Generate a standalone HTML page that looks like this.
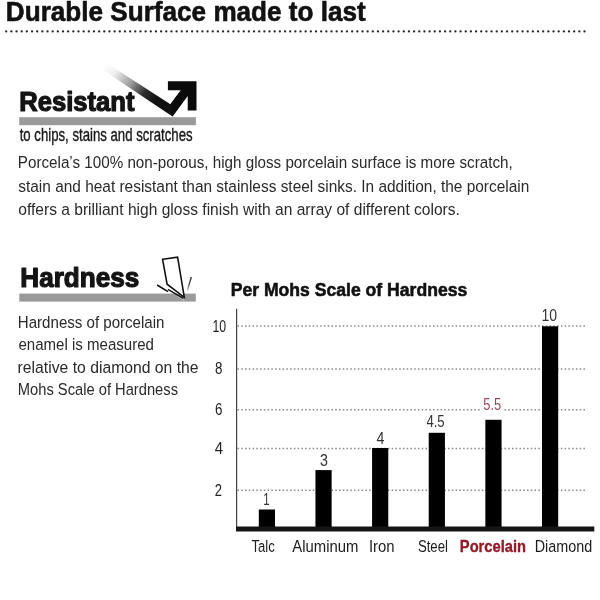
<!DOCTYPE html>
<html><head><meta charset="utf-8"><title>Durable Surface made to last</title>
<style>html,body{margin:0;padding:0;background:#fff;}svg{display:block;}</style>
</head><body>
<svg width="600" height="600" viewBox="0 0 600 600" font-family="'Liberation Sans', Arial, sans-serif">
<defs>
<linearGradient id="fade" gradientUnits="userSpaceOnUse" x1="106" y1="63" x2="158" y2="97">
<stop offset="0" stop-color="#111" stop-opacity="0"/>
<stop offset="0.2" stop-color="#111" stop-opacity="0.06"/>
<stop offset="0.5" stop-color="#111" stop-opacity="0.4"/>
<stop offset="0.78" stop-color="#111" stop-opacity="0.88"/>
<stop offset="1" stop-color="#111" stop-opacity="1"/>
</linearGradient>
<linearGradient id="fade2" gradientUnits="userSpaceOnUse" x1="191.3" y1="277" x2="187.4" y2="290.5">
<stop offset="0" stop-color="#222"/>
<stop offset="0.6" stop-color="#555"/>
<stop offset="1" stop-color="#999" stop-opacity="0.6"/>
</linearGradient>
</defs>
<rect width="600" height="600" fill="#fff"/>
<g fill="#262626"><circle cx="6.20" cy="31.4" r="1.15"/><circle cx="11.36" cy="31.4" r="1.15"/><circle cx="16.53" cy="31.4" r="1.15"/><circle cx="21.69" cy="31.4" r="1.15"/><circle cx="26.85" cy="31.4" r="1.15"/><circle cx="32.02" cy="31.4" r="1.15"/><circle cx="37.18" cy="31.4" r="1.15"/><circle cx="42.34" cy="31.4" r="1.15"/><circle cx="47.51" cy="31.4" r="1.15"/><circle cx="52.67" cy="31.4" r="1.15"/><circle cx="57.83" cy="31.4" r="1.15"/><circle cx="63.00" cy="31.4" r="1.15"/><circle cx="68.16" cy="31.4" r="1.15"/><circle cx="73.32" cy="31.4" r="1.15"/><circle cx="78.49" cy="31.4" r="1.15"/><circle cx="83.65" cy="31.4" r="1.15"/><circle cx="88.81" cy="31.4" r="1.15"/><circle cx="93.98" cy="31.4" r="1.15"/><circle cx="99.14" cy="31.4" r="1.15"/><circle cx="104.30" cy="31.4" r="1.15"/><circle cx="109.47" cy="31.4" r="1.15"/><circle cx="114.63" cy="31.4" r="1.15"/><circle cx="119.79" cy="31.4" r="1.15"/><circle cx="124.96" cy="31.4" r="1.15"/><circle cx="130.12" cy="31.4" r="1.15"/><circle cx="135.28" cy="31.4" r="1.15"/><circle cx="140.45" cy="31.4" r="1.15"/><circle cx="145.61" cy="31.4" r="1.15"/><circle cx="150.77" cy="31.4" r="1.15"/><circle cx="155.94" cy="31.4" r="1.15"/><circle cx="161.10" cy="31.4" r="1.15"/><circle cx="166.27" cy="31.4" r="1.15"/><circle cx="171.43" cy="31.4" r="1.15"/><circle cx="176.59" cy="31.4" r="1.15"/><circle cx="181.76" cy="31.4" r="1.15"/><circle cx="186.92" cy="31.4" r="1.15"/><circle cx="192.08" cy="31.4" r="1.15"/><circle cx="197.25" cy="31.4" r="1.15"/><circle cx="202.41" cy="31.4" r="1.15"/><circle cx="207.57" cy="31.4" r="1.15"/><circle cx="212.74" cy="31.4" r="1.15"/><circle cx="217.90" cy="31.4" r="1.15"/><circle cx="223.06" cy="31.4" r="1.15"/><circle cx="228.23" cy="31.4" r="1.15"/><circle cx="233.39" cy="31.4" r="1.15"/><circle cx="238.55" cy="31.4" r="1.15"/><circle cx="243.72" cy="31.4" r="1.15"/><circle cx="248.88" cy="31.4" r="1.15"/><circle cx="254.04" cy="31.4" r="1.15"/><circle cx="259.21" cy="31.4" r="1.15"/><circle cx="264.37" cy="31.4" r="1.15"/><circle cx="269.53" cy="31.4" r="1.15"/><circle cx="274.70" cy="31.4" r="1.15"/><circle cx="279.86" cy="31.4" r="1.15"/><circle cx="285.02" cy="31.4" r="1.15"/><circle cx="290.19" cy="31.4" r="1.15"/><circle cx="295.35" cy="31.4" r="1.15"/><circle cx="300.51" cy="31.4" r="1.15"/><circle cx="305.68" cy="31.4" r="1.15"/><circle cx="310.84" cy="31.4" r="1.15"/><circle cx="316.00" cy="31.4" r="1.15"/><circle cx="321.17" cy="31.4" r="1.15"/><circle cx="326.33" cy="31.4" r="1.15"/><circle cx="331.49" cy="31.4" r="1.15"/><circle cx="336.66" cy="31.4" r="1.15"/><circle cx="341.82" cy="31.4" r="1.15"/><circle cx="346.98" cy="31.4" r="1.15"/><circle cx="352.15" cy="31.4" r="1.15"/><circle cx="357.31" cy="31.4" r="1.15"/><circle cx="362.47" cy="31.4" r="1.15"/><circle cx="367.64" cy="31.4" r="1.15"/><circle cx="372.80" cy="31.4" r="1.15"/><circle cx="377.96" cy="31.4" r="1.15"/><circle cx="383.13" cy="31.4" r="1.15"/><circle cx="388.29" cy="31.4" r="1.15"/><circle cx="393.45" cy="31.4" r="1.15"/><circle cx="398.62" cy="31.4" r="1.15"/><circle cx="403.78" cy="31.4" r="1.15"/><circle cx="408.94" cy="31.4" r="1.15"/><circle cx="414.11" cy="31.4" r="1.15"/><circle cx="419.27" cy="31.4" r="1.15"/><circle cx="424.43" cy="31.4" r="1.15"/><circle cx="429.60" cy="31.4" r="1.15"/><circle cx="434.76" cy="31.4" r="1.15"/><circle cx="439.92" cy="31.4" r="1.15"/><circle cx="445.09" cy="31.4" r="1.15"/><circle cx="450.25" cy="31.4" r="1.15"/><circle cx="455.42" cy="31.4" r="1.15"/><circle cx="460.58" cy="31.4" r="1.15"/><circle cx="465.74" cy="31.4" r="1.15"/><circle cx="470.91" cy="31.4" r="1.15"/><circle cx="476.07" cy="31.4" r="1.15"/><circle cx="481.23" cy="31.4" r="1.15"/><circle cx="486.40" cy="31.4" r="1.15"/><circle cx="491.56" cy="31.4" r="1.15"/><circle cx="496.72" cy="31.4" r="1.15"/><circle cx="501.89" cy="31.4" r="1.15"/><circle cx="507.05" cy="31.4" r="1.15"/><circle cx="512.21" cy="31.4" r="1.15"/><circle cx="517.38" cy="31.4" r="1.15"/><circle cx="522.54" cy="31.4" r="1.15"/><circle cx="527.70" cy="31.4" r="1.15"/><circle cx="532.87" cy="31.4" r="1.15"/><circle cx="538.03" cy="31.4" r="1.15"/><circle cx="543.19" cy="31.4" r="1.15"/><circle cx="548.36" cy="31.4" r="1.15"/><circle cx="553.52" cy="31.4" r="1.15"/><circle cx="558.68" cy="31.4" r="1.15"/><circle cx="563.85" cy="31.4" r="1.15"/><circle cx="569.01" cy="31.4" r="1.15"/><circle cx="574.17" cy="31.4" r="1.15"/><circle cx="579.34" cy="31.4" r="1.15"/><circle cx="584.50" cy="31.4" r="1.15"/></g>
<!-- Resistant arrow -->
<polygon points="100,58.8 170.4,104.2 180.8,90.4 190,92 172.5,116.4 100,68.0" fill="url(#fade)"/>
<polygon points="172.5,116.4 187.7,96.0 187.7,110.4 196.5,110.4 196.5,81.3 167.9,81.3 167.9,90.3 180.8,90.3 170.4,104.2" fill="#0a0a0a"/>
<rect x="19.2" y="117.2" width="176.7" height="8" fill="#9a9a9a"/>
<!-- Hardness -->
<rect x="19.3" y="293.6" width="176.5" height="8" fill="#9a9a9a"/>
<line x1="176.5" y1="295.2" x2="184" y2="300.2" stroke="#c4c4c4" stroke-width="1.2"/>
<g fill="none" stroke="#111" stroke-width="1.55" stroke-linecap="butt" stroke-linejoin="miter">
<polygon points="162.6,259.3 177.6,257.2 184.3,297.3 167.1,284.2" fill="#fff"/>
<line x1="157.1" y1="285" x2="168" y2="291.6"/>
<line x1="167.9" y1="289.4" x2="183.3" y2="298.4" stroke-width="1.3"/>
<line x1="191.3" y1="277" x2="187.4" y2="290.5" stroke="url(#fade2)" stroke-width="1.3"/>
</g>
<!-- chart -->
<g stroke="#8a8a8a" stroke-width="1.5" stroke-dasharray="1.5 2.26"><line x1="237.5" y1="326.0" x2="586.5" y2="326.0"/><line x1="237.5" y1="369.0" x2="586.5" y2="369.0"/><line x1="237.5" y1="409.7" x2="586.5" y2="409.7"/><line x1="237.5" y1="448.5" x2="586.5" y2="448.5"/><line x1="237.5" y1="490.2" x2="586.5" y2="490.2"/></g>
<line x1="236.6" y1="308.7" x2="236.6" y2="530" stroke="#444" stroke-width="1.2"/>
<rect x="481.8" y="397" width="21" height="14.5" fill="#fff"/>
<g fill="#000"><rect x="258.80" y="509.5" width="16.2" height="19.50"/><rect x="315.44" y="470.1" width="16.2" height="58.90"/><rect x="372.08" y="448.0" width="16.2" height="81.00"/><rect x="428.72" y="432.8" width="16.2" height="96.20"/><rect x="485.36" y="419.8" width="16.2" height="109.20"/><rect x="542.00" y="326.3" width="16.2" height="202.70"/></g>
<rect x="236" y="526.5" width="358.3" height="5" fill="#151515"/>
<text x="5.84" y="21.20" font-size="27.3" font-weight="bold" stroke="#111" stroke-width="0.6" stroke-linejoin="round" fill="#111" textLength="359.94" lengthAdjust="spacingAndGlyphs">Durable Surface made to last</text><text x="19.16" y="111.20" font-size="27.2" font-weight="bold" stroke="#141414" stroke-width="1.2" stroke-linejoin="round" fill="#141414" textLength="115.29" lengthAdjust="spacingAndGlyphs">Resistant</text><text x="19.70" y="141.30" font-size="18.8" stroke="#1a1a1a" stroke-width="0.4" stroke-linejoin="round" fill="#1a1a1a" textLength="172.87" lengthAdjust="spacingAndGlyphs">to chips, stains and scratches</text><text x="17.82" y="168.30" font-size="17.2" fill="#2a2a2a" textLength="494.87" lengthAdjust="spacingAndGlyphs">Porcela’s 100% non-porous, high gloss porcelain surface is more scratch,</text><text x="18.30" y="191.50" font-size="17.2" fill="#2a2a2a" textLength="511.00" lengthAdjust="spacingAndGlyphs">stain and heat resistant than stainless steel sinks. In addition, the porcelain</text><text x="18.30" y="214.60" font-size="17.2" fill="#2a2a2a" textLength="441.60" lengthAdjust="spacingAndGlyphs">offers a brilliant high gloss finish with an array of different colors.</text><text x="20.35" y="287.00" font-size="27.6" font-weight="bold" stroke="#141414" stroke-width="1.2" stroke-linejoin="round" fill="#141414" textLength="118.97" lengthAdjust="spacingAndGlyphs">Hardness</text><text x="17.82" y="327.50" font-size="17.2" fill="#2a2a2a" textLength="146.67" lengthAdjust="spacingAndGlyphs">Hardness of porcelain</text><text x="18.50" y="350.30" font-size="17.2" fill="#2a2a2a" textLength="135.39" lengthAdjust="spacingAndGlyphs">enamel is measured</text><text x="17.58" y="372.60" font-size="17.2" fill="#2a2a2a" textLength="181.03" lengthAdjust="spacingAndGlyphs">relative to diamond on the</text><text x="17.84" y="395.00" font-size="17.2" fill="#2a2a2a" textLength="160.16" lengthAdjust="spacingAndGlyphs">Mohs Scale of Hardness</text><text x="230.68" y="296.20" font-size="19.2" font-weight="bold" stroke="#111" stroke-width="0.6" stroke-linejoin="round" fill="#111" textLength="236.63" lengthAdjust="spacingAndGlyphs">Per Mohs Scale of Hardness</text><text x="212.53" y="332.00" font-size="16" fill="#222" textLength="13.69" lengthAdjust="spacingAndGlyphs">10</text><text x="215.10" y="374.30" font-size="16" fill="#222" textLength="7.42" lengthAdjust="spacingAndGlyphs">8</text><text x="215.10" y="414.70" font-size="16" fill="#222" textLength="7.42" lengthAdjust="spacingAndGlyphs">6</text><text x="214.70" y="454.00" font-size="16" fill="#222" textLength="8.31" lengthAdjust="spacingAndGlyphs">4</text><text x="214.70" y="495.50" font-size="16" fill="#222" textLength="7.22" lengthAdjust="spacingAndGlyphs">2</text><text x="263.29" y="505.00" font-size="16" fill="#333" textLength="6.34" lengthAdjust="spacingAndGlyphs">1</text><text x="320.00" y="465.90" font-size="16" fill="#333" textLength="7.91" lengthAdjust="spacingAndGlyphs">3</text><text x="376.50" y="444.00" font-size="16" fill="#333" textLength="7.91" lengthAdjust="spacingAndGlyphs">4</text><text x="426.40" y="426.50" font-size="16" fill="#333" textLength="18.22" lengthAdjust="spacingAndGlyphs">4.5</text><text x="483.20" y="410.20" font-size="16" fill="#9a4858" textLength="18.02" lengthAdjust="spacingAndGlyphs">5.5</text><text x="541.52" y="320.60" font-size="16" fill="#333" textLength="15.59" lengthAdjust="spacingAndGlyphs">10</text><text x="251.50" y="552.00" font-size="16.3" fill="#1c1c1c" textLength="23.31" lengthAdjust="spacingAndGlyphs">Talc</text><text x="292.30" y="552.00" font-size="16.3" fill="#1c1c1c" textLength="66.11" lengthAdjust="spacingAndGlyphs">Aluminum</text><text x="368.88" y="552.00" font-size="16.3" fill="#1c1c1c" textLength="25.68" lengthAdjust="spacingAndGlyphs">Iron</text><text x="417.90" y="552.00" font-size="16.3" fill="#1c1c1c" textLength="30.00" lengthAdjust="spacingAndGlyphs">Steel</text><text x="459.86" y="551.62" font-size="16.1" font-weight="bold" stroke="#941a28" stroke-width="0.35" stroke-linejoin="round" fill="#941a28" textLength="66.12" lengthAdjust="spacingAndGlyphs">Porcelain</text><text x="534.72" y="552.00" font-size="16.3" fill="#1c1c1c" textLength="57.51" lengthAdjust="spacingAndGlyphs">Diamond</text>
</svg>
</body></html>
